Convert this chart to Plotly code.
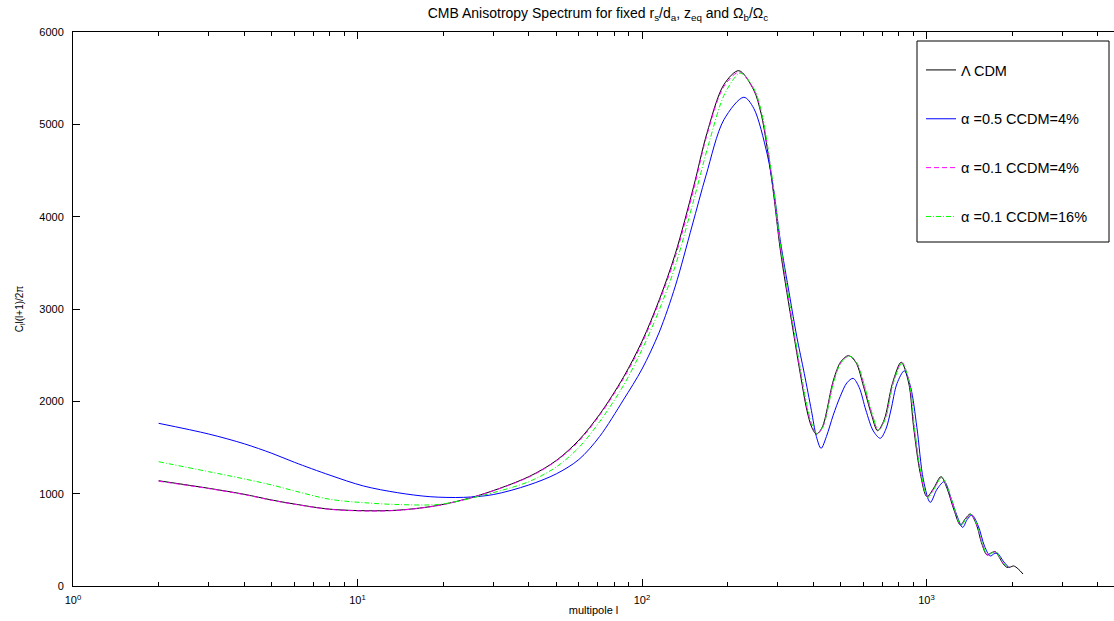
import plotly.graph_objects as go

# ---------------- data ----------------
l_lcdm = [2, 3, 4, 5, 6, 8, 10.8, 14, 19.5, 27, 40, 50, 60, 71, 86, 100, 115, 131, 152, 169, 194, 219,
          247, 262, 275, 290, 306, 323, 340, 360, 380, 395, 410, 430, 471, 500, 532, 565, 601, 640, 673,
          710, 760, 815, 866, 901, 951, 1004, 1060, 1125, 1180, 1250, 1315, 1370, 1426, 1500, 1560, 1632,
          1690, 1745, 1810, 1870, 1919, 1970, 2025, 2100, 2184]
cl_lcdm = [1140, 1058, 993, 931, 888, 832, 815, 822, 877, 986, 1184, 1360, 1580, 1860, 2260, 2650, 3100,
           3600, 4330, 4900, 5430, 5581, 5372, 5120, 4758, 4250, 3650, 3180, 2760, 2300, 1900, 1720, 1645,
           1720, 2231, 2430, 2495, 2420, 2159, 1860, 1682, 1800, 2200, 2423, 2198, 1720, 1220, 967, 1060,
           1184, 1060, 820, 661, 730, 780, 660, 470, 336, 360, 372, 300, 230, 202, 205, 217, 185, 130]

l_a05 = [2, 3, 4, 5, 6, 8, 10.5, 13.8, 18, 23.6, 30, 40, 50, 60, 71, 86, 100, 115, 131, 150, 168, 194, 228,
         247, 275, 290, 306, 330, 350, 372, 394, 410, 426, 445, 470, 497, 525, 552, 580, 612, 650, 688, 720,
         750, 788, 836, 880, 925, 975, 1031, 1090, 1155, 1220, 1280, 1340, 1390, 1445, 1520, 1600, 1675,
         1730, 1778, 1860, 1944]
cl_a05 = [1762, 1646, 1540, 1437, 1340, 1200, 1083, 1011, 967, 960, 990, 1094, 1215, 1370, 1620, 2015, 2350,
          2750, 3250, 3900, 4450, 5050, 5293, 5174, 4686, 4300, 3750, 3150, 2700, 2300, 1900, 1620, 1491,
          1620, 1850, 2050, 2200, 2249, 2150, 1906, 1680, 1600, 1700, 1906, 2195, 2330, 2150, 1720, 1150,
          906, 1050, 1130, 950, 760, 635, 720, 769, 650, 430, 325, 350, 354, 270, 202]

l_a01_4 = [2, 3, 4, 5, 6, 8, 10.8, 14, 19.5, 27, 40, 50, 60, 71, 86, 100, 115, 131, 152, 169, 194, 220,
           247, 262, 275, 290, 306, 323, 340, 360, 380, 395, 412, 432, 471, 500, 535, 568, 605, 645, 677,
           715, 765, 820, 870, 905, 955, 1008, 1065, 1130, 1185, 1255, 1320, 1375, 1432, 1505, 1565, 1638,
           1695, 1752, 1815, 1875, 1944]
cl_a01_4 = [1135, 1055, 990, 928, 885, 830, 812, 820, 875, 985, 1180, 1355, 1570, 1850, 2245, 2630, 3080,
            3570, 4300, 4880, 5410, 5565, 5380, 5140, 4790, 4280, 3690, 3220, 2790, 2330, 1930, 1740, 1648,
            1720, 2210, 2420, 2495, 2420, 2160, 1850, 1685, 1810, 2210, 2420, 2200, 1720, 1220, 965, 1060,
            1180, 1060, 820, 660, 725, 775, 655, 470, 335, 358, 368, 300, 235, 202]

l_a01_16 = [2, 3, 4, 5, 6, 8, 10.8, 14, 19.5, 27, 40, 50, 60, 71, 86, 100, 115, 131, 152, 172, 196, 222,
            247, 262, 275, 290, 306, 323, 340, 360, 380, 395, 412, 432, 471, 500, 535, 568, 605, 645, 677,
            715, 765, 820, 870, 907, 957, 1010, 1068, 1132, 1188, 1258, 1322, 1378, 1435, 1508, 1568, 1640,
            1698, 1755, 1818, 1878, 1944]
cl_a01_16 = [1346, 1238, 1160, 1094, 1030, 939, 900, 882, 885, 975, 1130, 1290, 1500, 1780, 2170, 2560, 2990,
             3470, 4180, 4800, 5340, 5553, 5390, 5160, 4810, 4310, 3720, 3250, 2820, 2360, 1960, 1760,
             1652, 1720, 2200, 2415, 2490, 2420, 2170, 1860, 1690, 1800, 2200, 2410, 2210, 1720, 1220, 960,
             1060, 1180, 1060, 820, 660, 725, 775, 655, 470, 335, 358, 368, 300, 235, 202]

series_names = ["\u039b CDM", "\u03b1 =0.5 CCDM=4%", "\u03b1 =0.1 CCDM=4%", "\u03b1 =0.1 CCDM=16%"]

x_major_vals = [1, 10, 100, 1000]
x_major_text = ["10<sup>0</sup>", "10<sup>1</sup>", "10<sup>2</sup>", "10<sup>3</sup>"]
x_minor_vals = [m * d for d in (1, 10, 100, 1000) for m in range(2, 10)]
y_tick_vals = [0, 1000, 2000, 3000, 4000, 5000, 6000]

# ---------------- figure ----------------
FONT = "Liberation Sans, Arial, Helvetica, sans-serif"
W, H = 1114, 621
ML, MR, MT, MB = 73, 0, 32, 35
pw, ph = W - ML - MR, H - MT - MB

fig = go.Figure()
styles = [
    (l_lcdm, cl_lcdm, "#000000", "solid"),
    (l_a05, cl_a05, "#0000ff", "solid"),
    (l_a01_4, cl_a01_4, "#ff00ff", "5px,3px"),
    (l_a01_16, cl_a01_16, "#00ff00", "5px,2px,1px,2px"),
]
for i, (xs, ys, col, dash) in enumerate(styles):
    fig.add_trace(go.Scatter(
        x=xs, y=ys, mode="lines", name=series_names[i],
        line=dict(color=col, width=1, dash=dash, shape="spline", smoothing=0.9),
        legendgroup=f"g{i}",
    ))

xr_max = (W - ML) / 284.5  # log10 range visible inside the frame

fig.update_layout(
    width=W, height=H,
    margin=dict(l=ML, r=MR, t=MT, b=MB, autoexpand=False),
    paper_bgcolor="white", plot_bgcolor="white",
    font=dict(family=FONT, size=11, color="black"),
    title=dict(
        text="CMB Anisotropy Spectrum for fixed r<sub>s</sub>/d<sub>a</sub>, z<sub>eq</sub> and \u03a9<sub>b</sub>/\u03a9<sub>c</sub>",
        x=598 / W, xanchor="center", xref="container",
        y=1 - 13 / H, yanchor="middle", yref="container",
        font=dict(family=FONT, size=14, color="black"),
    ),
    showlegend=True,
    legend=dict(
        x=(921 - ML) / pw, xanchor="left",
        y=(586 - 54) / ph, yanchor="top",
        bgcolor="rgba(0,0,0,0)", borderwidth=0,
        font=dict(family=FONT, size=14.5, color="black"),
        traceorder="grouped", tracegroupgap=27,
        itemwidth=30,
    ),
    xaxis=dict(
        type="log", range=[0, xr_max],
        showgrid=False, zeroline=False,
        showline=True, linecolor="black", linewidth=1, mirror="allticks",
        ticks="inside", ticklen=7, tickcolor="black",
        tickvals=x_major_vals, ticktext=x_major_text,
        tickfont=dict(family=FONT, size=11, color="black"),
        ticklabelstandoff=4,
        minor=dict(ticks="inside", ticklen=4, tickcolor="black", tickvals=x_minor_vals, showgrid=False),
        title=dict(text="multipole l", standoff=1, font=dict(family=FONT, size=11, color="black")),
        automargin=False,
    ),
    yaxis=dict(
        range=[0, 6000],
        showgrid=False, zeroline=False,
        showline=True, linecolor="black", linewidth=1, mirror=False,
        ticks="inside", ticklen=7, tickcolor="black",
        tickvals=y_tick_vals,
        tickfont=dict(family=FONT, size=11, color="black"),
        ticklabelstandoff=6,
        title=dict(text="C<sub>l</sub>l(l+1)/2\u03c0", standoff=13, font=dict(family=FONT, size=10, color="black")),
        automargin=False,
    ),
    shapes=[
        dict(type="rect", xref="paper", yref="paper",
             x0=(917 - ML) / pw, x1=(1109 - ML) / pw,
             y0=(586 - 242) / ph, y1=(586 - 41) / ph,
             line=dict(color="black", width=1), fillcolor="white", layer="below"),
    ],
)

fig.write_html(
    "out.html",
    config={"displayModeBar": False},
    post_script="document.body.style.margin='0px';document.body.style.overflow='hidden';",
)
